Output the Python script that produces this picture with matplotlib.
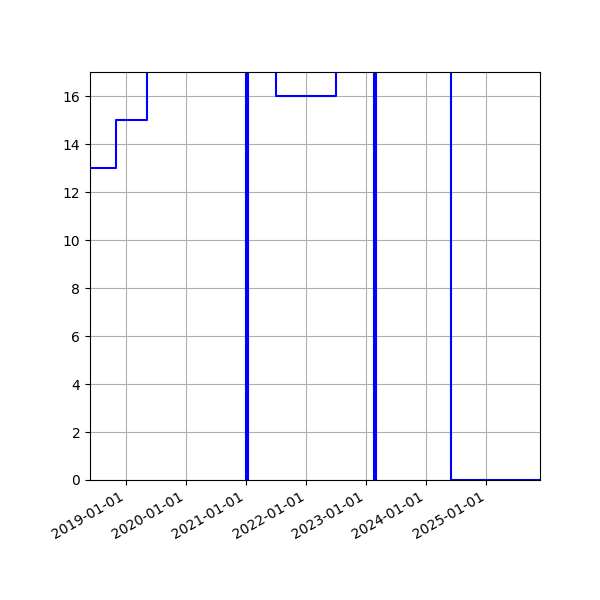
import matplotlib
matplotlib.use("Agg")
import matplotlib.pyplot as plt
import matplotlib.dates as mdates
import numpy as np
import pandas as pd

# step series (values above 17 run off the top of the axes)
dates = pd.to_datetime([
    "2018-05-25", "2018-11-01", "2019-05-08", "2021-01-01", "2021-01-10",
    "2021-07-01", "2022-07-01", "2023-02-18", "2023-03-04", "2024-06-01",
    "2025-11-24",
])
values = [13, 15, 20, 0, 20, 16, 20, 0, 20, 0, 0]

x_start = pd.Timestamp("2018-05-25")
x_end = pd.Timestamp("2025-11-24")

fig, ax = plt.subplots(figsize=(6, 6), dpi=100)
fig.subplots_adjust(left=0.15, right=0.9, top=0.88, bottom=0.2)

ax.step(dates, values, where="post", color="blue", lw=1.5)

ax.set_xlim(x_start, x_end)
ax.set_ylim(0, 17)
ax.set_yticks(np.arange(0, 17, 2))
ax.xaxis.set_major_locator(mdates.YearLocator())
ax.xaxis.set_major_formatter(mdates.DateFormatter("%Y-%m-%d"))
ax.grid(True)
for lab in ax.get_xticklabels():
    lab.set_rotation(30)
    lab.set_ha("right")

fig.savefig("out.png", dpi=100)
